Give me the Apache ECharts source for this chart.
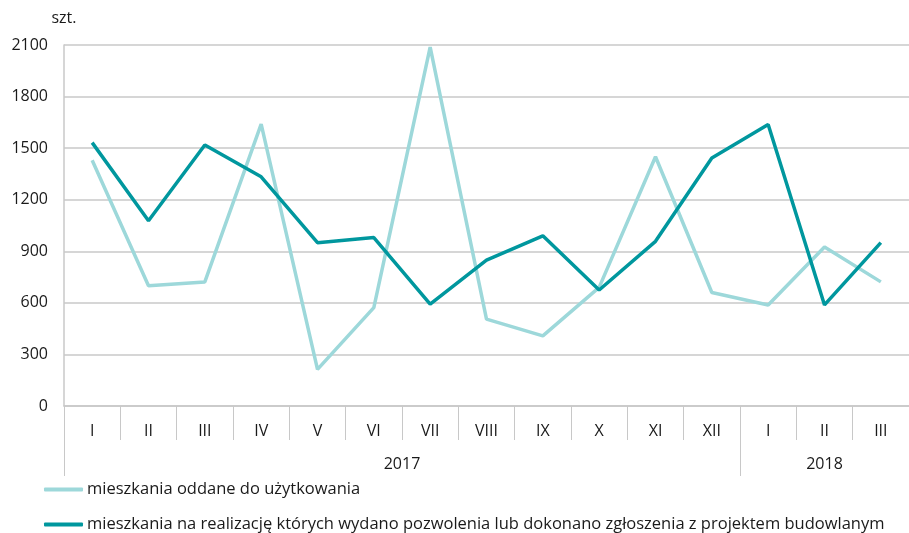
<!DOCTYPE html>
<html>
<head>
<meta charset="utf-8">
<script src="https://cdn.jsdelivr.net/npm/echarts@6/dist/echarts.min.js"></script>
<style>
  html, body { margin: 0; padding: 0; background: #fff; }
  #chart { width: 909px; height: 533px; }
</style>
</head>
<body>
<div id="chart"></div>
<script>
// months on the x axis (2017 I..XII, 2018 I..III)
var months = ['I', 'II', 'III', 'IV', 'V', 'VI', 'VII', 'VIII', 'IX', 'X', 'XI', 'XII', 'I', 'II', 'III']
var years = ['2017', '2018']
var yearSpans = [12, 3]
var yTicks = [0, 300, 600, 900, 1200, 1500, 1800, 2100]

var oddane = [1430, 700, 722, 1640, 213, 572, 2088, 505, 408, 690, 1450, 660, 588, 925, 722]
var pozwolenia = [1532, 1078, 1518, 1333, 950, 980, 592, 848, 990, 675, 958, 1443, 1638, 588, 950]

var seriesNames = [
  'mieszkania oddane do użytkowania',
  'mieszkania na realizację których wydano pozwolenia lub dokonano zgłoszenia z projektem budowlanym'
]
var seriesColors = ['#9dd8da', '#00979e']

// year boundaries and label centres built from spans
var yearEdges = [0]
var yearCenters = []
yearSpans.forEach(function (s, i) {
  yearCenters.push(yearEdges[i] + s / 2)
  yearEdges.push(yearEdges[i] + s)
})

var font = '"Open Sans", "Noto Sans", sans-serif'
var gridColor = '#c8c8c8'
var txt = '#1a1a1a'

function legendAt(i, top) {
  return {
    left: 39,
    top: top,
    itemWidth: 39,
    itemHeight: 4,
    icon: 'roundRect',
    textStyle: { fontSize: 16.5, color: txt, fontFamily: font, padding: [0, 0, 0, -1] },
    data: [seriesNames[i]]
  }
}

var chart = echarts.init(document.getElementById('chart'))
chart.setOption({
  backgroundColor: '#ffffff',
  animation: false,
  textStyle: { fontFamily: font },
  grid: {
    left: 64,
    top: 45,
    width: 853,
    height: 361,
    containLabel: false
  },
  legend: [legendAt(0, 476), legendAt(1, 511)],
  xAxis: [{
    type: 'category',
    data: months,
    boundaryGap: true,
    axisLine: { lineStyle: { color: gridColor, width: 1.5 } },
    axisTick: { show: true, interval: 0, length: 34, lineStyle: { color: gridColor, width: 1 } },
    axisLabel: { interval: 0, margin: 17, fontSize: 16, color: txt, fontFamily: font },
    splitLine: { show: false }
  }, {
    type: 'value',
    min: 0,
    max: 15,
    position: 'bottom',
    axisLine: { show: false },
    axisTick: {
      show: true,
      customValues: yearEdges,
      length: 70,
      lineStyle: { color: gridColor, width: 1 }
    },
    axisLabel: {
      customValues: yearCenters,
      margin: 50,
      fontSize: 16,
      color: txt,
      fontFamily: font,
      formatter: function (v) {
        return years[yearCenters.indexOf(v)]
      }
    },
    splitLine: { show: false }
  }],
  yAxis: {
    type: 'value',
    min: 0,
    max: 2100,
    interval: 300,
    name: 'szt.',
    nameLocation: 'end',
    nameGap: 19,
    nameTextStyle: { fontSize: 16, color: txt, fontFamily: font, align: 'center' },
    axisLine: { show: true, lineStyle: { color: gridColor, width: 1.5 } },
    axisTick: { show: false },
    axisLabel: {
      margin: 16,
      fontSize: 16,
      color: txt,
      fontFamily: font,
      customValues: yTicks,
      formatter: function (v) { return String(v) }
    },
    splitLine: { show: true, lineStyle: { color: gridColor, width: 1.5 } }
  },
  series: [{
    name: seriesNames[0],
    type: 'line',
    data: oddane,
    xAxisIndex: 0,
    symbol: 'none',
    lineStyle: { color: seriesColors[0], width: 3.5 },
    itemStyle: { color: seriesColors[0] }
  }, {
    name: seriesNames[1],
    type: 'line',
    data: pozwolenia,
    xAxisIndex: 0,
    symbol: 'none',
    lineStyle: { color: seriesColors[1], width: 3.5 },
    itemStyle: { color: seriesColors[1] }
  }]
})
</script>
</body>
</html>
